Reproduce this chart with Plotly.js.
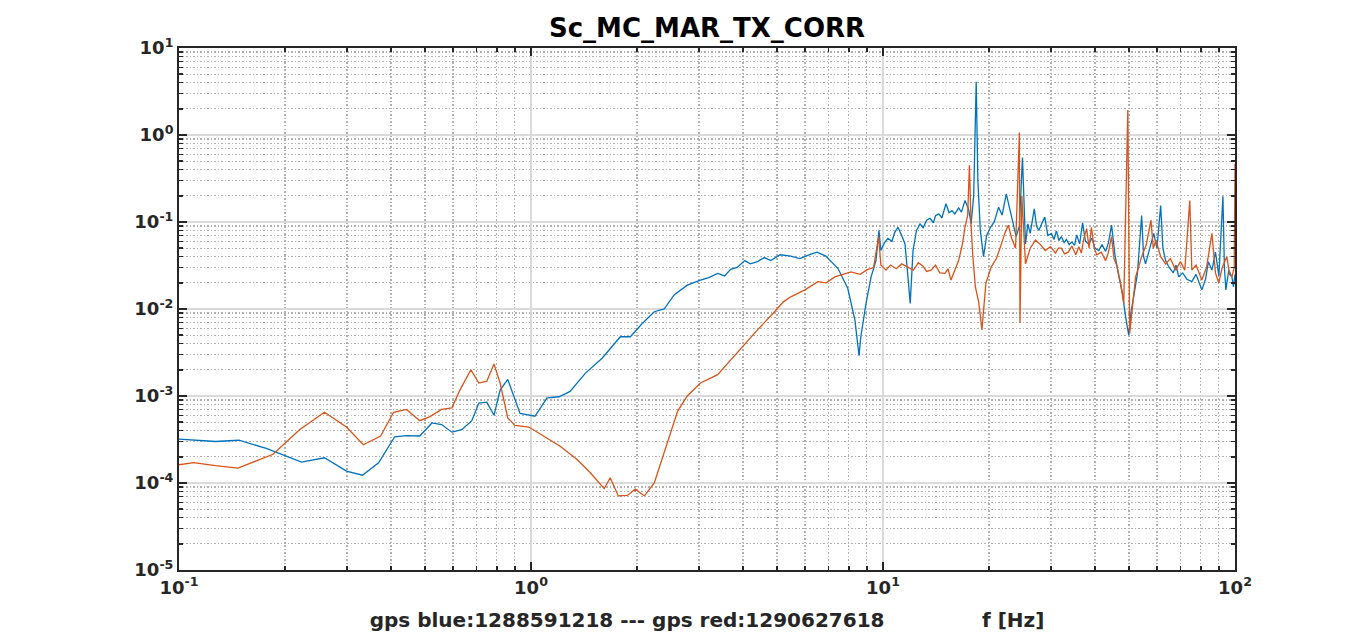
<!DOCTYPE html>
<html>
<head>
<meta charset="utf-8">
<script src="https://cdn.plot.ly/plotly-3.0.1.min.js"></script>
<style>
  html, body { margin: 0; padding: 0; background: white; }
  #plot { width: 1366px; height: 642px; }
</style>
</head>
<body>
<div id="plot"></div>
<script>
// spectra (f in Hz, amplitude)
const blueF = [0.100, 0.112, 0.127, 0.148, 0.177, 0.223, 0.259, 0.299, 0.332, 0.369,
  0.410, 0.443, 0.483, 0.523, 0.557, 0.596, 0.636, 0.679, 0.711, 0.749,
  0.785, 0.817, 0.859, 0.931, 0.986, 1.026, 1.111, 1.202, 1.291, 1.426,
  1.592, 1.794, 1.915, 2.07, 2.24, 2.39, 2.55, 2.78, 3.03, 3.2, 3.39,
  3.55, 3.69, 3.85, 4.05, 4.2, 4.40, 4.60, 4.80, 5.1, 5.47, 5.8, 6.24, 6.5, 6.88,
  7.45, 7.94, 8.32, 8.55, 8.65, 8.95, 9.25, 9.55, 9.74,
  9.86, 10.1, 10.33, 10.6, 10.8, 11.03, 11.3, 11.55, 11.95, 12.17,
  12.45, 12.74, 13.0, 13.3, 13.6, 13.9, 14.1, 14.4, 14.7, 15.1,
  15.4, 15.7, 16.0, 16.4, 16.7, 17.1, 17.5, 17.8, 18.1, 18.4,
  18.6, 18.9, 19.3, 19.7, 20.2, 20.7, 21.3, 21.8, 22.4, 22.8,
  23.2, 23.9, 24.4, 24.9, 25.4, 25.8, 26.2, 26.9, 27.3, 27.7,
  28.2, 28.8, 29.4, 30.1, 30.6, 31.1, 31.6, 32.1, 32.7, 33.2,
  33.8, 34.4, 35.0, 35.5, 36.2, 36.9, 37.6, 38.4, 39.2, 40.0,
  41.0, 41.9, 42.9, 43.7, 44.6, 45.6, 46.8, 47.9, 48.9, 49.9,
  50.6, 51.5, 52.8, 54.3, 55.0, 55.7, 57.2, 58.8, 60.0, 61.5,
  62.4, 63.5, 65.0, 66.8, 68.0, 69.2, 71.0, 73.0, 75.4, 77.5,
  80.5, 82.5, 84.0, 86.0, 88.0, 90.0, 92.4, 93.3, 94.2, 96.0,
  98.0, 99.0, 100];
const blueA = [3.2e-4, 3.1e-4, 3.0e-4, 3.1e-4, 2.5e-4, 1.74e-4, 1.95e-4, 1.37e-4, 1.23e-4, 1.71e-4,
  3.4e-4, 3.5e-4, 3.47e-4, 4.9e-4, 4.7e-4, 3.84e-4, 4.1e-4, 5.2e-4, 8.3e-4, 8.5e-4,
  6.0e-4, 1.17e-3, 1.55e-3, 6.3e-4, 6.1e-4, 5.85e-4, 9.5e-4, 9.8e-4, 1.13e-3, 1.82e-3,
  2.72e-3, 4.8e-3, 4.8e-3, 6.8e-3, 9.3e-3, 1.0e-2, 1.45e-2, 1.88e-2, 2.15e-2, 2.3e-2, 2.57e-2,
  2.4e-2, 2.85e-2, 3.0e-2, 3.6e-2, 3.3e-2, 3.5e-2, 3.9e-2, 3.6e-2, 4.2e-2, 4.05e-2, 3.8e-2, 4.27e-2, 4.5e-2, 4.05e-2,
  2.92e-2, 1.73e-2, 7.5e-3, 2.9e-3, 4.8e-3, 1.16e-2, 2.34e-2, 3.6e-2, 8.0e-2,
  4.7e-2, 5.8e-2, 6.5e-2, 6.0e-2, 7.6e-2, 8.7e-2, 7.0e-2, 5.6e-2, 1.16e-2, 4.7e-2,
  8.0e-2, 9.5e-2, 8.6e-2, 0.105, 0.11, 0.098, 0.118, 0.124, 0.112, 0.162,
  0.128, 0.135, 0.124, 0.145, 0.13, 0.177, 0.14, 9.5e-2, 0.2, 4.1,
  0.3, 8.0e-2, 4.0e-2, 7.0e-2, 8.7e-2, 0.10, 0.148, 0.12, 0.211, 0.15,
  0.114, 6.8e-2, 0.09, 0.55, 5.6e-2, 0.095, 7.4e-2, 0.142, 0.09, 8.0e-2,
  0.095, 0.114, 7.0e-2, 7.4e-2, 6.3e-2, 7.9e-2, 6.1e-2, 6.8e-2, 5.8e-2, 6.3e-2,
  5.5e-2, 5.9e-2, 5.4e-2, 7.1e-2, 5.6e-2, 9.8e-2, 6.0e-2, 5.6e-2, 6.5e-2, 5.0e-2,
  4.7e-2, 5.5e-2, 4.6e-2, 5.8e-2, 9.2e-2, 4.2e-2, 2.34e-2, 1.5e-2, 8.1e-3, 5.0e-3,
  9.0e-3, 1.38e-2, 2.5e-2, 0.119, 4.0e-2, 3.3e-2, 5.0e-2, 7.4e-2, 5.0e-2, 0.155,
  5.0e-2, 3.6e-2, 3.0e-2, 2.6e-2, 3.2e-2, 2.34e-2, 2.6e-2, 2.2e-2, 2.06e-2, 2.5e-2,
  1.66e-2, 2.2e-2, 3.5e-2, 2.8e-2, 4.5e-2, 2.4e-2, 0.197, 3.0e-2, 1.66e-2, 2.8e-2,
  2.34e-2, 1.8e-2, 2.5e-2];

const redF = [0.100, 0.110, 0.127, 0.147, 0.185, 0.220, 0.259, 0.299, 0.334, 0.374,
  0.407, 0.443, 0.483, 0.515, 0.557, 0.596, 0.628, 0.675, 0.711, 0.749,
  0.785, 0.817, 0.859, 0.900, 0.986, 1.089, 1.210, 1.352, 1.472, 1.614,
  1.679, 1.770, 1.879, 1.977, 2.10, 2.24, 2.39, 2.61, 2.78, 3.03,
  3.39, 3.69, 4.05, 4.40, 4.92, 5.2, 5.47, 6.00, 6.53, 6.9, 7.30, 7.7, 8.11, 8.6,
  9.06, 9.4, 9.72, 9.86, 10.2, 10.5, 10.9, 11.3, 11.8, 12.2,
  12.6, 13.0, 13.3, 13.7, 14.1, 14.5, 15.0, 15.3, 15.6, 16.0,
  16.4, 16.8, 17.1, 17.4, 17.6, 17.8, 18.0, 18.3, 18.7, 19.1,
  19.6, 20.3, 21.0, 21.7, 22.2, 22.7, 23.2, 23.8, 24.2, 24.4,
  24.5, 24.8, 25.4, 26.2, 27.1, 28.0, 28.9, 29.9, 30.9, 31.5,
  32.1, 32.8, 33.6, 34.4, 35.3, 36.0, 36.6, 37.2, 37.9, 38.5,
  39.1, 39.8, 40.5, 41.7, 42.9, 43.7, 44.6, 45.3, 46.1, 47.3,
  48.3, 48.9, 49.6, 50.2, 51.2, 52.2, 53.2, 54.3, 56.0, 57.7,
  58.6, 59.6, 61.5, 63.5, 65.5, 67.9, 70.0, 72.0, 74.4, 75.4,
  77.5, 80.5, 83.0, 86.0, 88.0, 89.9, 92.0, 94.8, 96.5, 98.0,
  99.5, 100];
const redA = [1.62e-4, 1.71e-4, 1.58e-4, 1.48e-4, 2.14e-4, 4.1e-4, 6.5e-4, 4.4e-4, 2.75e-4, 3.47e-4,
  6.5e-4, 7.0e-4, 5.2e-4, 5.75e-4, 7.0e-4, 7.3e-4, 1.17e-3, 2.0e-3, 1.41e-3, 1.48e-3,
  2.34e-3, 1.41e-3, 5.6e-4, 4.6e-4, 4.4e-4, 3.47e-4, 2.65e-4, 1.86e-4, 1.32e-4, 8.6e-5,
  1.15e-4, 7.1e-5, 7.2e-5, 8.5e-5, 7.1e-5, 1.0e-4, 2.24e-4, 6.7e-4, 1.0e-3, 1.41e-3,
  1.76e-3, 2.6e-3, 3.9e-3, 5.75e-3, 9.3e-3, 1.2e-2, 1.38e-2, 1.66e-2, 2.06e-2, 2.0e-2, 2.34e-2, 2.5e-2, 2.67e-2, 2.5e-2,
  2.85e-2, 3.0e-2, 6.8e-2, 3.2e-2, 2.8e-2, 3.2e-2, 2.9e-2, 3.3e-2, 3.0e-2, 2.8e-2,
  3.4e-2, 3.1e-2, 2.7e-2, 2.8e-2, 3.2e-2, 2.6e-2, 2.57e-2, 2.9e-2, 2.15e-2, 2.8e-2,
  3.6e-2, 5.5e-2, 8.7e-2, 0.12, 0.45, 8.9e-2, 4.0e-2, 1.8e-2, 1.2e-2, 5.75e-3,
  1.97e-2, 3.05e-2, 3.8e-2, 5.6e-2, 7.5e-2, 9.2e-2, 6.5e-2, 5.0e-2, 0.3, 1.07,
  6.9e-3, 0.2, 3.3e-2, 5.0e-2, 6.2e-2, 5.5e-2, 4.7e-2, 5.2e-2, 4.4e-2, 5.0e-2,
  5.0e-2, 4.3e-2, 4.5e-2, 5.3e-2, 4.2e-2, 5.2e-2, 4.4e-2, 6.5e-2, 8.4e-2, 5.0e-2,
  8.7e-2, 5.0e-2, 4.2e-2, 4.5e-2, 3.6e-2, 4.5e-2, 6.8e-2, 3.8e-2, 3.2e-2, 2.0e-2,
  1.16e-2, 0.155, 1.94, 5.2e-3, 1.2e-2, 2.34e-2, 3.0e-2, 4.0e-2, 5.5e-2, 0.105,
  5.0e-2, 6.2e-2, 4.0e-2, 3.3e-2, 3.8e-2, 2.8e-2, 3.5e-2, 2.8e-2, 0.177, 2.8e-2,
  3.2e-2, 2.15e-2, 3.0e-2, 7.4e-2, 2.6e-2, 2.0e-2, 3.0e-2, 4.0e-2, 2.5e-2, 2.34e-2,
  3.0e-2, 0.47];

const xTickVals = [0.1, 1, 10, 100];
const xTickText = ['10<sup>-1</sup>', '10<sup>0</sup>', '10<sup>1</sup>', '10<sup>2</sup>'];
const yTickVals = [1e-5, 1e-4, 1e-3, 1e-2, 1e-1, 1, 10];
const yTickText = ['10<sup>-5</sup>', '10<sup>-4</sup>', '10<sup>-3</sup>', '10<sup>-2</sup>',
  '10<sup>-1</sup>', '10<sup>0</sup>', '10<sup>1</sup>'];

const titleText = 'Sc_MC_MAR_TX_CORR';
const xLabel = 'gps blue:1288591218 --- gps red:1290627618' + '\u00a0'.repeat(14) + 'f [Hz]';

const axisColor = '#262626';
const font = 'DejaVu Sans, Liberation Sans, sans-serif';

function axisStyle(extra) {
  const base = {
    type: 'log',
    showline: true,
    linewidth: 2,
    linecolor: axisColor,
    mirror: 'ticks',
    ticks: 'inside',
    ticklen: 8,
    tickwidth: 2,
    tickcolor: axisColor,
    tickmode: 'array',
    showgrid: true,
    gridcolor: '#dadada',
    gridwidth: 1.5,
    zeroline: false,
    tickfont: { family: font, size: 18, color: axisColor, weight: 'bold' },
    minor: {
      dtick: 'D1',
      ticks: 'inside',
      ticklen: 4,
      tickwidth: 1.5,
      tickcolor: axisColor,
      showgrid: true,
      gridcolor: '#b0b0b0',
      griddash: '1.5px,2px',
      gridwidth: 1.2
    }
  };
  return Object.assign(base, extra);
}

const traces = [
  {
    x: blueF, y: blueA, mode: 'lines', name: 'blue',
    line: { color: '#0072BD', width: 1.3 }
  },
  {
    x: redF, y: redA, mode: 'lines', name: 'red',
    line: { color: '#D95319', width: 1.3 }
  }
];

const layout = {
  width: 1366,
  height: 642,
  margin: { l: 179, r: 131, t: 48, b: 72 },
  paper_bgcolor: 'white',
  plot_bgcolor: 'white',
  showlegend: false,
  title: {
    text: titleText,
    font: { family: font, size: 26, color: 'black', weight: 'bold' },
    xref: 'paper', x: 0.5, xanchor: 'center',
    yref: 'container', y: 1 - 28 / 642, yanchor: 'middle'
  },
  xaxis: axisStyle({
    range: [-1, 2],
    tickvals: xTickVals,
    ticktext: xTickText,
    title: {
      text: xLabel,
      font: { family: font, size: 20, color: axisColor, weight: 'bold' },
      standoff: 16
    }
  }),
  yaxis: axisStyle({
    range: [-5, 1],
    tickvals: yTickVals,
    ticktext: yTickText
  })
};

Plotly.newPlot('plot', traces, layout, { displayModeBar: false, staticPlot: true });
</script>
</body>
</html>
